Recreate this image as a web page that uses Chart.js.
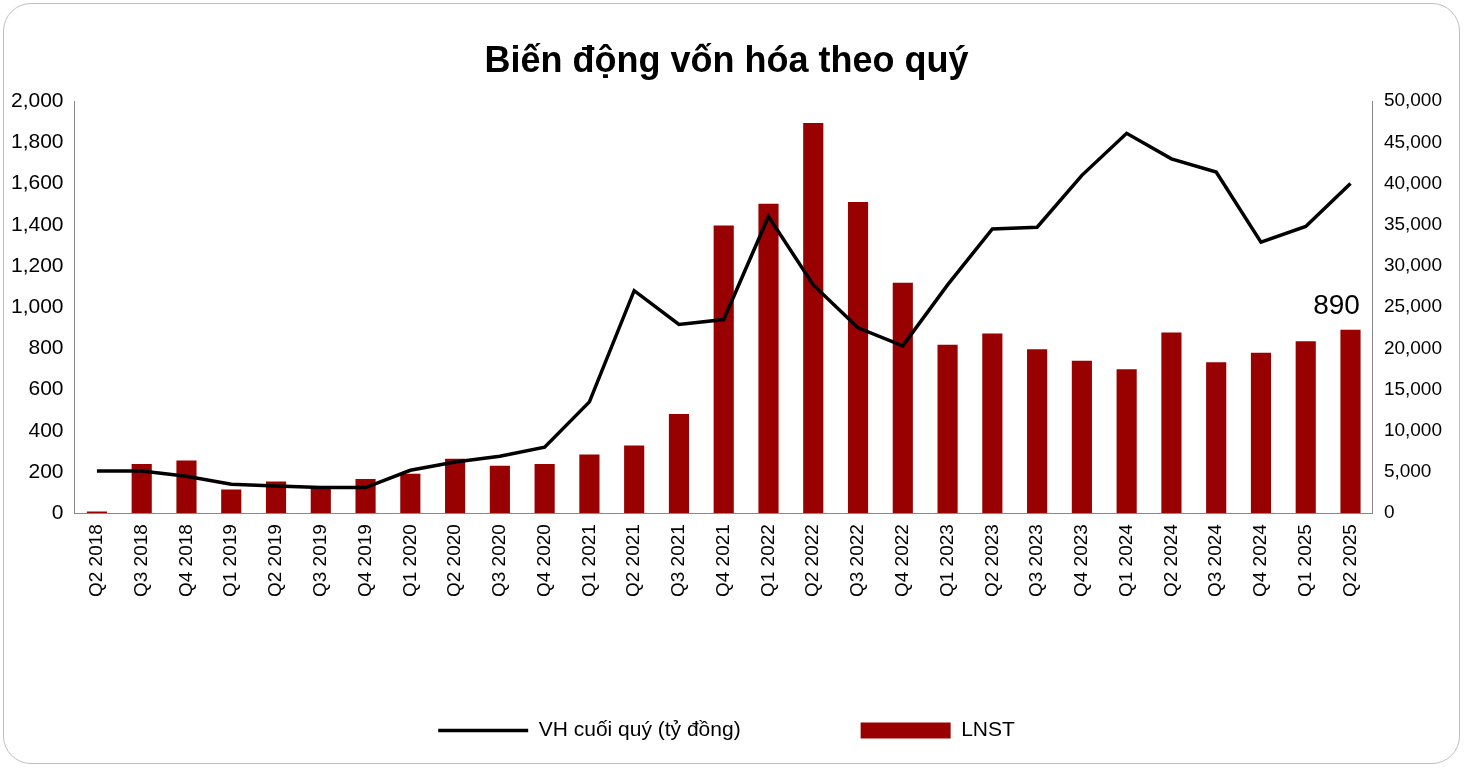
<!DOCTYPE html>
<html>
<head>
<meta charset="utf-8">
<script src="https://cdn.jsdelivr.net/npm/chart.js@4"></script>
<style>
  html, body { margin: 0; padding: 0; background: #fff; }
  .box { position: absolute; left: 3px; top: 3px; width: 1457px; height: 761px; border: 1.5px solid #bfbfbf; border-radius: 28px; box-sizing: border-box; }
  .wrap { position: absolute; left: 0; top: 0; width: 1465px; height: 769px; }
</style>
</head>
<body>
<div class="box"></div>
<div class="wrap"><canvas id="myChart" width="1465" height="769"></canvas></div>
<script>
const labels = ['Q2 2018','Q3 2018','Q4 2018','Q1 2019','Q2 2019','Q3 2019','Q4 2019','Q1 2020','Q2 2020','Q3 2020','Q4 2020','Q1 2021','Q2 2021','Q3 2021','Q4 2021','Q1 2022','Q2 2022','Q3 2022','Q4 2022','Q1 2023','Q2 2023','Q3 2023','Q4 2023','Q1 2024','Q2 2024','Q3 2024','Q4 2024','Q1 2025','Q2 2025'];
const lnst = [8,238,255,115,153,119,166,191,264,230,238,285,328,481,1396,1502,1894,1511,1119,817,872,796,740,698,877,732,779,834,890];
const vonHoa = [5100,5100,4470,3500,3300,3100,3100,5200,6200,6900,8000,13500,27000,22900,23500,36000,27700,22500,20300,27700,34500,34700,41000,46100,43000,41400,32900,34800,40000];

const FONT = "'Liberation Sans', 'DejaVu Sans', sans-serif";

// nhãn giá trị cho cột cuối
const lastLabel = {
  id: 'lastLabel',
  afterDatasetsDraw(chart) {
    const meta = chart.getDatasetMeta(0);
    const bar = meta.data[meta.data.length - 1];
    const c = chart.ctx;
    c.save();
    c.font = '28px ' + FONT;
    c.fillStyle = '#000';
    c.textAlign = 'center';
    c.textBaseline = 'bottom';
    c.fillText(String(lnst[lnst.length - 1]), bar.x - 14, bar.y - 10);
    c.restore();
  }
};

const ctx = document.getElementById('myChart');
new Chart(ctx, {
  data: {
    labels: labels,
    datasets: [
      {
        type: 'bar',
        label: 'LNST',
        data: lnst,
        backgroundColor: '#990000',
        yAxisID: 'y',
        barPercentage: 0.45,
        categoryPercentage: 1.0,
        order: 2,
        pointStyle: 'rect'
      },
      {
        type: 'line',
        label: 'VH cuối quý (tỷ đồng)',
        data: vonHoa,
        borderColor: '#000',
        backgroundColor: '#000',
        borderWidth: 3.5,
        pointRadius: 0,
        tension: 0,
        yAxisID: 'y1',
        order: 1,
        pointStyle: 'line'
      }
    ]
  },
  options: {
    responsive: false,
    animation: false,
    devicePixelRatio: 1,
    layout: { padding: { left: 8, right: 20, top: 40, bottom: 18 } },
    plugins: {
      title: {
        display: true,
        text: 'Biến động vốn hóa theo quý',
        font: { family: FONT, size: 36, weight: 'bold' },
        color: '#000',
        padding: { top: 0, bottom: 18 }
      },
      legend: {
        position: 'bottom',
        labels: {
          usePointStyle: true,
          pointStyleWidth: 90,
          boxHeight: 16,
          padding: 120,
          color: '#000',
          font: { family: FONT, size: 21 }
        }
      },
      tooltip: { enabled: false }
    },
    scales: {
      x: {
        grid: { display: false },
        border: { color: '#888' },
        ticks: { color: '#000', font: { family: FONT, size: 19 }, maxRotation: 90, minRotation: 90, autoSkip: false }
      },
      y: {
        position: 'left',
        min: 0, max: 2000,
        grid: { display: false },
        border: { color: '#888' },
        ticks: { stepSize: 200, color: '#000', font: { family: FONT, size: 21 }, callback: v => v.toLocaleString('en-US') }
      },
      y1: {
        position: 'right',
        min: 0, max: 50000,
        grid: { display: false },
        border: { color: '#888' },
        ticks: { stepSize: 5000, color: '#000', font: { family: FONT, size: 19 }, callback: v => v.toLocaleString('en-US') }
      }
    }
  },
  plugins: [lastLabel]
});
</script>
</body>
</html>
